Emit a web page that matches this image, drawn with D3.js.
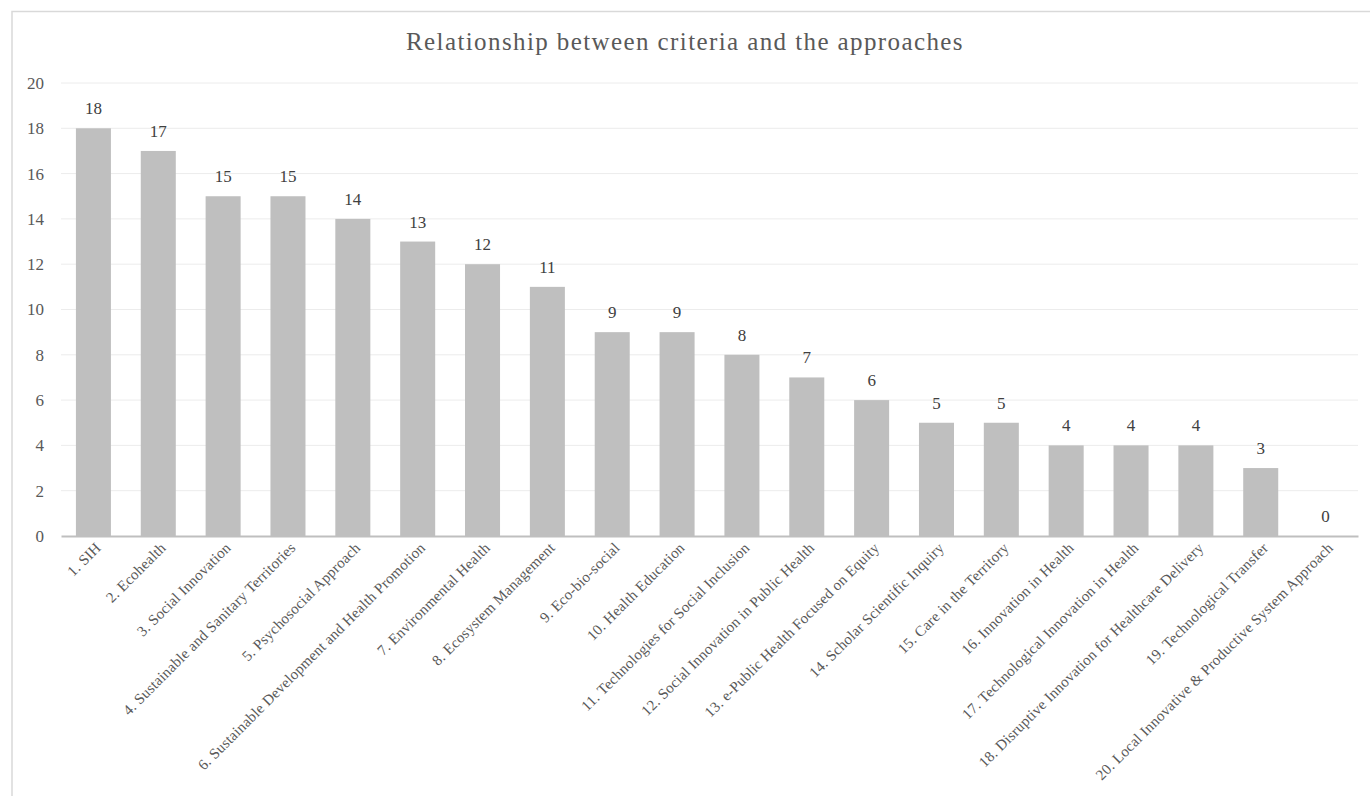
<!DOCTYPE html>
<html>
<head>
<meta charset="utf-8">
<script src="https://cdn.jsdelivr.net/npm/d3@7"></script>
<style>
  body { margin: 0; background: #fff; }
  text { font-family: "Liberation Serif", "DejaVu Serif", serif; }
</style>
</head>
<body>
<div id="chart"></div>
<script>
// Data
const approaches = [
    "1. SIH", "2. Ecohealth", "3. Social Innovation",
    "4. Sustainable and Sanitary Territories", "5. Psychosocial Approach",
    "6. Sustainable Development and Health Promotion", "7. Environmental Health",
    "8. Ecosystem Management", "9. Eco-bio-social", "10. Health Education",
    "11. Technologies for Social Inclusion", "12. Social Innovation in Public Health",
    "13. e-Public Health Focused on Equity", "14. Scholar Scientific Inquiry",
    "15. Care in the Territory", "16. Innovation in Health",
    "17. Technological Innovation in Health", "18. Disruptive Innovation for Healthcare Delivery",
    "19. Technological Transfer", "20. Local Innovative & Productive System Approach"
];
const counts = [18, 17, 15, 15, 14, 13, 12, 11, 9, 9, 8, 7, 6, 5, 5, 4, 4, 4, 3, 0];
const yTicks = [0, 2, 4, 6, 8, 10, 12, 14, 16, 18, 20];
const title = "Relationship between criteria and the approaches";

const data = approaches.map((a, i) => ({name: a, value: counts[i]}));

/* Set the dimensions and margins of the graph */
const width = 1370, height = 796;
const margins = {top: 83, right: 12, bottom: 260, left: 61};

const svg = d3.select("#chart")
    .append("svg")
    .attr("width", width)
    .attr("height", height);

// chart frame: only top and left edges are visible in the crop
svg.append("path")
    .attr("d", `M${width},11.5 H12 V${height}`)
    .attr("fill", "none")
    .attr("stroke", "#d9d9d9")
    .attr("stroke-width", 1.5);

const xScale = d3.scaleBand()
    .domain(approaches)
    .range([margins.left, width - margins.right])
    .paddingInner(0.46)
    .paddingOuter(0.23);
const yScale = d3.scaleLinear()
    .domain([0, 20])
    .range([height - margins.bottom, margins.top]);

// gridlines
svg.append("g")
    .selectAll("line")
    .data(yTicks.filter(d => d > 0))
    .join("line")
    .attr("x1", margins.left)
    .attr("x2", width - margins.right)
    .attr("y1", d => yScale(d))
    .attr("y2", d => yScale(d))
    .attr("stroke", "#ececec")
    .attr("stroke-width", 1);

// bars
svg.append("g")
    .selectAll("rect")
    .data(data)
    .join("rect")
    .attr("x", d => xScale(d.name))
    .attr("y", d => yScale(d.value))
    .attr("width", xScale.bandwidth())
    .attr("height", d => yScale(0) - yScale(d.value))
    .attr("fill", "#bfbfbf");

// value labels
svg.append("g")
    .selectAll("text")
    .data(data)
    .join("text")
    .attr("x", d => xScale(d.name) + xScale.bandwidth() / 2)
    .attr("y", d => yScale(d.value) - 14)
    .attr("text-anchor", "middle")
    .style("font-size", "17px")
    .style("fill", "#404040")
    .text(d => d.value);

// y axis
const yAxis = d3.axisLeft(yScale).tickValues(yTicks).tickSize(0).tickPadding(17);
const yGroup = svg.append("g")
    .attr("transform", `translate(${margins.left},0)`)
    .call(yAxis);
yGroup.select(".domain").remove();
yGroup.selectAll("text")
    .style("font-size", "17px")
    .style("font-family", "Liberation Serif, serif")
    .style("fill", "#595959");

// x axis
const xAxis = d3.axisBottom(xScale).tickSize(0).tickPadding(0);
const xGroup = svg.append("g")
    .attr("transform", `translate(0, ${yScale(0)})`)
    .call(xAxis);
xGroup.select(".domain")
    .attr("stroke", "#bfbfbf")
    .attr("stroke-width", 2);
xGroup.selectAll("text")
    .style("text-anchor", "end")
    .style("font-size", "15px")
    .style("letter-spacing", "0.2px")
    .style("font-family", "Liberation Serif, serif")
    .style("fill", "#595959")
    .attr("dx", "-0.2em")
    .attr("dy", "1em")
    .attr("transform", "rotate(-45)");

// title
svg.append("text")
    .attr("x", width / 2)
    .attr("y", 50)
    .attr("text-anchor", "middle")
    .style("font-size", "25px")
    .style("letter-spacing", "1.4px")
    .style("fill", "#595959")
    .text(title);
</script>
</body>
</html>
